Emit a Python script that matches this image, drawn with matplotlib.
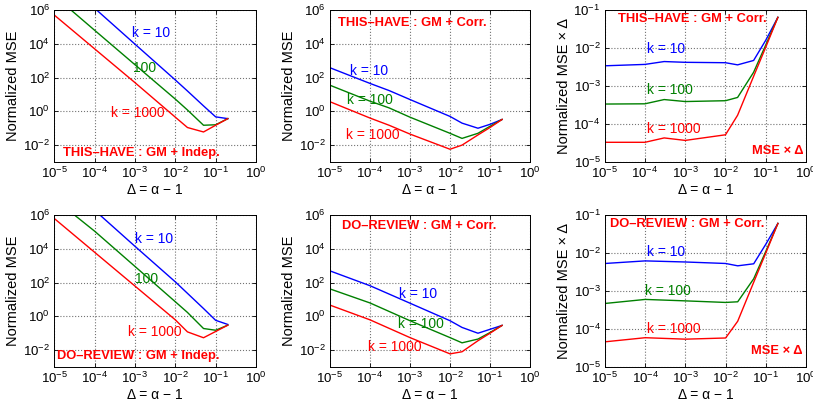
import matplotlib
matplotlib.use("Agg")
import matplotlib.pyplot as plt
from matplotlib.ticker import NullLocator

plt.rcParams['font.family'] = ['Liberation Sans', 'DejaVu Sans']
plt.rcParams['mathtext.fontset'] = 'custom'
plt.rcParams['mathtext.rm'] = 'Liberation Sans'
plt.rcParams['mathtext.it'] = 'Liberation Sans:italic'
plt.rcParams['mathtext.bf'] = 'Liberation Sans:bold'

# ---------------- data ----------------
delta_ind = [1e-5, 1e-4, 1e-3, 1e-2, 2e-2, 5e-2, 0.1, 0.2]
delta_corr_this = [1e-5, 1e-4, 3e-4, 1e-3, 1e-2, 2e-2, 5e-2, 0.1, 0.2]
delta_corr_do = [1e-5, 1e-4, 1e-3, 1e-2, 2e-2, 5e-2, 0.1, 0.2]

# THIS-HAVE : GM + Indep.  (Normalized MSE)
this_ind_k10 = [1.7e8, 1.27e6, 9.5e3, 72, 16, 2.1, 0.47, 0.37]
this_ind_k100 = [7e6, 6.3e4, 575, 5.3, 1.2, 0.15, 0.16, 0.37]
this_ind_k1000 = [5e5, 5e3, 50, 0.45, 0.11, 0.06, 0.15, 0.37]

# THIS-HAVE : GM + Corr.  (Normalized MSE)
this_corr_k10 = [380, 45, 17, 5, 0.5, 0.2, 0.1, 0.17, 0.33]
this_corr_k100 = [35, 4, 1.6, 0.45, 0.05, 0.025, 0.05, 0.13, 0.33]
this_corr_k1000 = [3.7, 0.4, 0.15, 0.045, 0.0057, 0.01, 0.04, 0.11, 0.33]

# THIS-HAVE : GM + Corr.  (Normalized MSE x Delta)
this_corrd_k10 = [3.4e-3, 3.7e-3, 4.4e-3, 4.2e-3, 4.1e-3, 3.6e-3, 4.7e-3, 1.6e-2, 6.4e-2]
this_corrd_k100 = [3.35e-4, 3.4e-4, 4.4e-4, 3.9e-4, 4.1e-4, 5.0e-4, 2.3e-3, 1.2e-2, 6.4e-2]
this_corrd_k1000 = [3.3e-5, 3.3e-5, 4.3e-5, 3.7e-5, 5.2e-5, 1.7e-4, 1.8e-3, 1.05e-2, 6.4e-2]

# DO-REVIEW : GM + Indep.  (Normalized MSE)
do_ind_k10 = [2.5e8, 1.9e6, 1.4e4, 110, 23, 2.9, 0.58, 0.33]
do_ind_k100 = [9e6, 1.1e5, 900, 7.3, 1.7, 0.19, 0.15, 0.3]
do_ind_k1000 = [6.2e5, 6.2e3, 62, 0.62, 0.12, 0.054, 0.127, 0.3]

# DO-REVIEW : GM + Corr.  (Normalized MSE)
do_corr_k10 = [490, 65, 6, 0.55, 0.22, 0.1, 0.17, 0.29]
do_corr_k100 = [42, 6.2, 0.55, 0.055, 0.027, 0.045, 0.11, 0.29]
do_corr_k1000 = [4.6, 0.62, 0.055, 0.006, 0.008, 0.036, 0.1, 0.29]

# DO-REVIEW : GM + Corr.  (Normalized MSE x Delta)
do_corrd_k10 = [5.3e-3, 6.2e-3, 5.8e-3, 5.3e-3, 4.6e-3, 5.2e-3, 1.7e-2, 6.0e-2]
do_corrd_k100 = [4.7e-4, 6e-4, 5.5e-4, 5e-4, 5.2e-4, 2.1e-3, 1.1e-2, 6.0e-2]
do_corrd_k1000 = [4.6e-5, 5.9e-5, 5.4e-5, 5.8e-5, 1.6e-4, 1.7e-3, 1.0e-2, 6.0e-2]

colors = ["#0000ff", "#008000", "#ff0000"]

W, H = 813, 404
fig = plt.figure(figsize=(W / 100, H / 100), dpi=100)


def px_axes(left, right, top, bottom):
    return fig.add_axes([left / W, (H - bottom) / H, (right - left) / W, (bottom - top) / H])


def style(ax, ylim, yticks, ylabel):
    ax.set_xscale('log')
    ax.set_yscale('log')
    ax.set_xlim(1e-5, 1e0)
    ax.set_ylim(*ylim)
    ax.set_xticks([1e-5, 1e-4, 1e-3, 1e-2, 1e-1, 1e0])
    ax.set_yticks(yticks)
    ax.xaxis.set_minor_locator(NullLocator())
    ax.yaxis.set_minor_locator(NullLocator())
    ax.grid(True, which='major', linestyle=':', color='0.45', linewidth=0.8)
    ax.tick_params(direction='in', length=3, width=0.6, labelsize=9.5, top=True, right=True, pad=3)
    for s in ax.spines.values():
        s.set_linewidth(0.7)
    ax.set_xlabel("Δ = α − 1", fontsize=10, labelpad=1)
    ax.set_ylabel(ylabel, fontsize=10.5, labelpad=2)


def draw(ax, x, ys, labels_pos, title, title_pos, extra=None):
    for y, c in zip(ys, colors):
        ax.plot(x, y, color=c, linewidth=1.0)
    for (txt, (tx, ty)), c in zip(labels_pos, colors):
        ax.text(tx, ty, txt, color=c, fontsize=10, ha='left', va='center', transform=ax.transAxes)
    ax.text(title_pos[0], title_pos[1], title, color='#ff0000', fontsize=9.3, fontweight='bold',
            ha='left', va='center', transform=ax.transAxes)
    if extra is not None:
        ax.text(extra[0], extra[1], "MSE × Δ", color='#ff0000', fontsize=9.3, fontweight='bold',
                ha='right', va='center', transform=ax.transAxes)


mse_ticks = [1e-2, 1e0, 1e2, 1e4, 1e6]
msed_ticks = [1e-5, 1e-4, 1e-3, 1e-2, 1e-1]

# Top row
ax1 = px_axes(54.3, 256, 10, 162)
style(ax1, (1e-3, 1e6), mse_ticks, "Normalized MSE")
draw(ax1, delta_ind, [this_ind_k10, this_ind_k100, this_ind_k1000],
     [("k = 10", (0.385, 0.849)), ("100", (0.389, 0.616)), ("k = 1000", (0.281, 0.324))],
     "THIS–HAVE : GM + Indep.", (0.045, 0.061))

ax2 = px_axes(330, 530, 10, 162)
style(ax2, (1e-3, 1e6), mse_ticks, "Normalized MSE")
draw(ax2, delta_corr_this, [this_corr_k10, this_corr_k100, this_corr_k1000],
     [("k = 10", (0.10, 0.599)), ("k = 100", (0.085, 0.408)), ("k = 1000", (0.08, 0.178))],
     "THIS–HAVE : GM + Corr.", (0.04, 0.916))

ax3 = px_axes(604.7, 806, 10, 162)
style(ax3, (1e-5, 1e-1), msed_ticks, "Normalized MSE × Δ")
draw(ax3, delta_corr_this, [this_corrd_k10, this_corrd_k100, this_corrd_k1000],
     [("k = 10", (0.209, 0.741)), ("k = 100", (0.209, 0.474)), ("k = 1000", (0.209, 0.215))],
     "THIS–HAVE : GM + Corr.", (0.066, 0.939), extra=(0.988, 0.074))

# Bottom row
ax4 = px_axes(54.3, 256, 215, 367)
style(ax4, (1e-3, 1e6), mse_ticks, "Normalized MSE")
draw(ax4, delta_ind, [do_ind_k10, do_ind_k100, do_ind_k1000],
     [("k = 10", (0.40, 0.84)), ("100", (0.40, 0.577)), ("k = 1000", (0.364, 0.232))],
     "DO–REVIEW : GM + Indep.", (0.012, 0.072))

ax5 = px_axes(330, 530, 215, 367)
style(ax5, (1e-3, 1e6), mse_ticks, "Normalized MSE")
draw(ax5, delta_corr_do, [do_corr_k10, do_corr_k100, do_corr_k1000],
     [("k = 10", (0.347, 0.478)), ("k = 100", (0.342, 0.283)), ("k = 1000", (0.19, 0.13))],
     "DO–REVIEW : GM + Corr.", (0.058, 0.928))

ax6 = px_axes(605, 806, 215, 367)
style(ax6, (1e-5, 1e-1), msed_ticks, "Normalized MSE × Δ")
draw(ax6, delta_corr_do, [do_corrd_k10, do_corrd_k100, do_corrd_k1000],
     [("k = 10", (0.207, 0.758)), ("k = 100", (0.199, 0.502)), ("k = 1000", (0.207, 0.248))],
     "DO–REVIEW : GM + Corr.", (0.025, 0.941), extra=(0.985, 0.107))

fig.savefig("out.png", dpi=100)
